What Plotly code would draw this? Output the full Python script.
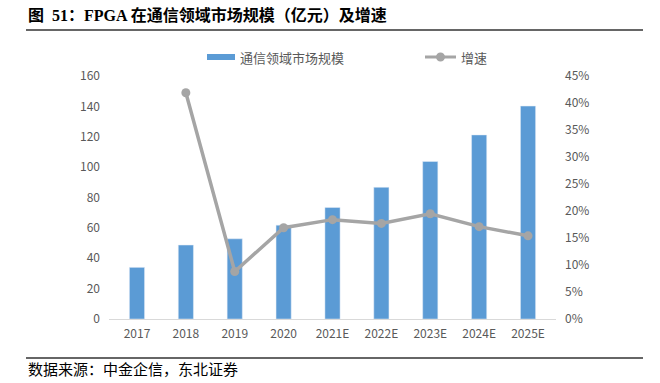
import plotly.graph_objects as go

categories = ["2017", "2018", "2019", "2020", "2021E", "2022E", "2023E", "2024E", "2025E"]
market_size = [34, 48.7, 52.8, 61.8, 73.4, 86.7, 103.7, 121.2, 140.2]
growth = [None, 0.419, 0.088, 0.169, 0.184, 0.177, 0.195, 0.171, 0.154]
bar_name = "通信领域市场规模"
line_name = "增速"
title_text = "图  51：FPGA 在通信领域市场规模（亿元）及增速"
source_text = "数据来源：中金企信，东北证券"

BLUE = "#5B9BD5"
GRAY = "#A5A5A5"
TICK = "#595959"
SANS = "Noto Sans CJK SC, Noto Sans, sans-serif"
SERIF = "Liberation Serif, Noto Sans CJK SC, serif"

# plot area in pixels
L, R, T, B = 109, 556, 76, 319
W, H = R - L, B - T
def px(x): return (x - L) / W
def py(y): return (B - y) / H

fig = go.Figure()
fig.add_trace(go.Bar(x=categories, y=market_size, name=bar_name, marker_color=BLUE,
                     showlegend=False, yaxis="y"))
fig.add_trace(go.Scatter(x=categories, y=growth, name=line_name, mode="lines+markers",
                         line=dict(color=GRAY, width=3.5), marker=dict(color=GRAY, size=9),
                         showlegend=False, yaxis="y2", connectgaps=False))

shapes = [
    dict(type="line", xref="paper", yref="paper", x0=px(26), x1=px(643), y0=py(30), y1=py(30),
         line=dict(color="#333333", width=1.5)),
    dict(type="line", xref="paper", yref="paper", x0=px(26), x1=px(643), y0=py(358), y1=py(358),
         line=dict(color="#333333", width=1.5)),
    # legend swatches
    dict(type="rect", xref="paper", yref="paper", x0=px(207), x1=px(235), y0=py(60), y1=py(54),
         fillcolor=BLUE, line=dict(width=0)),
    dict(type="line", xref="paper", yref="paper", x0=px(425), x1=px(456), y0=py(57), y1=py(57),
         line=dict(color=GRAY, width=3)),
    dict(type="circle", xref="paper", yref="paper", x0=px(436), x1=px(445), y0=py(61.5), y1=py(52.5),
         fillcolor=GRAY, line=dict(width=0)),
]

annotations = [
    dict(text="<b>" + title_text + "</b>", xref="paper", yref="paper", x=px(26), y=py(15),
         xanchor="left", yanchor="middle", showarrow=False,
         font=dict(family=SERIF, size=16, color="#000000")),
    dict(text=source_text, xref="paper", yref="paper", x=px(26), y=py(369),
         xanchor="left", yanchor="middle", showarrow=False,
         font=dict(family=SERIF, size=15, color="#000000")),
    dict(text=bar_name, xref="paper", yref="paper", x=px(238), y=py(57),
         xanchor="left", yanchor="middle", showarrow=False,
         font=dict(family=SANS, size=13, color=TICK)),
    dict(text=line_name, xref="paper", yref="paper", x=px(459), y=py(57),
         xanchor="left", yanchor="middle", showarrow=False,
         font=dict(family=SANS, size=13, color=TICK)),
]

fig.update_layout(
    width=660, height=383,
    margin=dict(l=L, r=660 - R, t=T, b=383 - B),
    paper_bgcolor="white", plot_bgcolor="white",
    bargap=0.69,
    font=dict(family=SANS, size=12, color=TICK),
    xaxis=dict(showgrid=False, showline=True, linecolor="#D9D9D9", linewidth=1,
               ticks="", ticklabelstandoff=4, tickfont=dict(size=12, color=TICK)),
    yaxis=dict(range=[0, 160], dtick=20, showgrid=False, zeroline=False, showline=False,
               ticks="", ticklabelstandoff=8, tickfont=dict(size=12, color=TICK)),
    yaxis2=dict(range=[0, 0.45], dtick=0.05, tickformat=".0%", overlaying="y", side="right",
                showgrid=False, zeroline=False, showline=False, ticks="", ticklabelstandoff=8,
                tickfont=dict(size=12, color=TICK)),
    shapes=shapes, annotations=annotations,
)

fig.write_html("out.html", config={"displayModeBar": False},
               post_script="document.body.style.margin='0';")
